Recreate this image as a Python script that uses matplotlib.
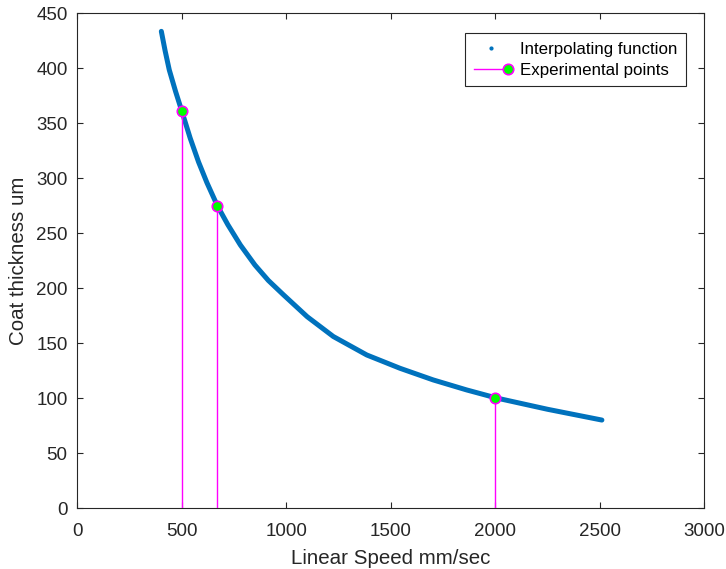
import matplotlib
matplotlib.use('Agg')
import matplotlib.pyplot as plt
from matplotlib.lines import Line2D
from matplotlib.legend_handler import HandlerLine2D

# values
curve_speed = [402, 420, 440, 470, 500, 540, 580, 620, 670, 720, 780, 850, 914,
               986, 1100, 1225, 1385, 1544, 1703, 1863, 2007, 2250, 2510]
curve_thick = [433.6, 416, 398.5, 379, 361, 336.5, 314.8, 296, 275, 257.8, 239.3,
               221, 207, 194, 174, 156, 139.2, 127.1, 116.5, 107.4, 100, 89.8, 80]

exp_speed = [500, 670, 2000]
exp_thick = [361, 275, 100]


class MarkerAtEnd(HandlerLine2D):
    # legend entry with the marker at the right end of the line, like matlab
    def create_artists(self, *args, **kwargs):
        arts = super().create_artists(*args, **kwargs)
        arts[0].set_markevery([2])
        return arts


plt.rcParams['font.family'] = ['Liberation Sans', 'DejaVu Sans']

fig = plt.figure(figsize=(7.26, 5.69), dpi=100)
ax = fig.add_axes([0.1065, 0.1072, 0.8636, 0.8694])

blue = '#0072BD'
dark = '#262626'

ax.plot(curve_speed, curve_thick, '-', color=blue, linewidth=3.6,
        solid_capstyle='round', solid_joinstyle='round', zorder=2)

ax.vlines(exp_speed, 0, exp_thick, color='#FF00FF', linewidth=1.0, zorder=3)
ax.plot(exp_speed, exp_thick, 'o', markersize=7.5, markerfacecolor='#00FF00',
        markeredgecolor='#FF00FF', markeredgewidth=1.2, zorder=4)

ax.set_xlim(0, 3000)
ax.set_ylim(0, 450)
ax.set_xticks(range(0, 3001, 500))
ax.set_yticks(range(0, 451, 50))

ax.tick_params(direction='in', length=4, width=0.8, top=True, right=True,
               labelsize=13.5, colors=dark)
ax.tick_params(axis='x', pad=11)
ax.tick_params(axis='y', pad=7)
for s in ax.spines.values():
    s.set_color(dark)
    s.set_linewidth(0.8)

ax.set_xlabel('Linear Speed mm/sec', fontsize=14.8, color=dark, labelpad=6)
ax.set_ylabel('Coat thickness um', fontsize=14.8, color=dark, labelpad=6)

interp_handle = Line2D([], [], linestyle='none', marker='.', markersize=4, color=blue)
exp_handle = Line2D([], [], color='#FF00FF', linewidth=1.0, marker='o', markersize=7.5,
                    markerfacecolor='#00FF00', markeredgecolor='#FF00FF',
                    markeredgewidth=1.2)
leg = ax.legend([interp_handle, exp_handle],
                ['Interpolating function', 'Experimental points'],
                handler_map={exp_handle: MarkerAtEnd()},
                loc='upper right', bbox_to_anchor=(0.971, 0.96), fontsize=12.2,
                fancybox=False, framealpha=1, edgecolor=dark, borderpad=0.5,
                handlelength=2.0, labelspacing=0.35, handletextpad=0.75,
                borderaxespad=0)
leg.get_frame().set_linewidth(0.8)

fig.savefig('out.png', dpi=100)
